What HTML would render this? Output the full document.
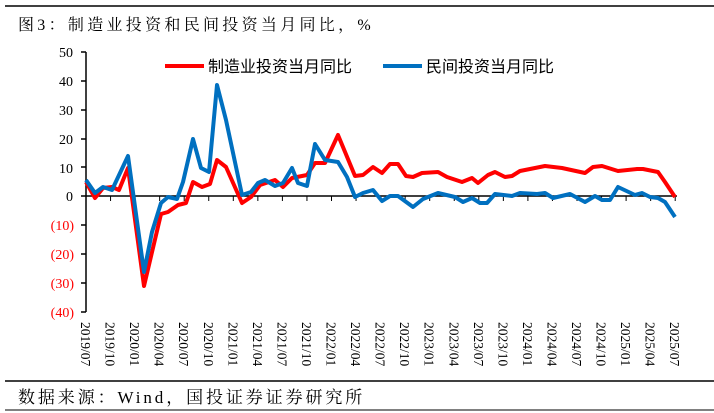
<!DOCTYPE html>
<html><head><meta charset="utf-8"><style>
body{margin:0;background:#fff;}
svg{display:block}
</style></head><body>
<svg width="714" height="413" viewBox="0 0 714 413" xmlns="http://www.w3.org/2000/svg">
<line x1="5" y1="6" x2="714" y2="6" stroke="#000" stroke-width="1.5"/>
<text x="18" y="30" font-family="Liberation Serif, Noto Serif CJK SC, serif" font-size="16" letter-spacing="3.3">图3：制造业投资和民间投资当月同比，%</text>
<g font-family="Liberation Serif, serif" font-size="14" text-anchor="end">
<text x="73" y="57">50</text><text x="73" y="86">40</text><text x="73" y="115">30</text>
<text x="73" y="144">20</text><text x="73" y="173">10</text><text x="73" y="201">0</text>
<g fill="#f00"><text x="74" y="230">(10)</text><text x="74" y="259">(20)</text><text x="74" y="288">(30)</text><text x="74" y="317">(40)</text></g>
</g>
<g stroke="#000" stroke-width="1.5">
<line x1="86" y1="52" x2="86" y2="312"/>
<line x1="81" y1="52" x2="86" y2="52"/><line x1="81" y1="81" x2="86" y2="81"/><line x1="81" y1="110" x2="86" y2="110"/><line x1="81" y1="139" x2="86" y2="139"/><line x1="81" y1="167" x2="86" y2="167"/><line x1="81" y1="225" x2="86" y2="225"/><line x1="81" y1="254" x2="86" y2="254"/><line x1="81" y1="283" x2="86" y2="283"/><line x1="81" y1="312" x2="86" y2="312"/>
<line x1="81" y1="196" x2="677" y2="196"/>
</g>
<g id="ticks" stroke="#000" stroke-width="1"></g>
<g font-family="Liberation Serif, serif" font-size="13.5" id="xl"></g>
<polyline fill="none" stroke="#f00" stroke-width="4" stroke-linejoin="round" points="86,182 95,198 103,188 112,187 119,190 128,168 144,286 161,214 168,212 178,205 186,203 193,182 202,187 210,184 217,160 226,167 242,203 251,197 260,185 275,180 283,187 292,178 307,175 315,163 325,163 338,135 355,176 363,175 373,167 382,173 390,164 398,164 406,176 413,177 422,173 438,172 447,177 462,182 472,178 478,183 488,175 495,172 505,177 512,176 520,171 545,166 562,168 585,173 593,167 602,166 618,171 637,169 643,169 658,172 665,182 675,197"/>
<polyline fill="none" stroke="#0070c0" stroke-width="4" stroke-linejoin="round" points="86,180 95,193 103,187 112,190 128,156 144,272 152,232 161,203 168,197 177,199 183,182 193,139 201,168 209,172 217,85 226,120 242,195 251,192 258,183 265,180 275,186 283,183 292,168 298,183 307,186 315,144 325,160 338,162 347,177 355,197 363,193 373,190 382,201 390,196 398,196 413,207 423,199 438,193 455,197 463,202 472,198 480,203 487,203 495,194 512,196 520,193 537,194 545,193 553,198 570,194 585,202 595,196 602,200 610,200 618,187 635,195 642,193 650,197 658,198 665,202 675,217"/>
<line x1="165" y1="66" x2="204" y2="66" stroke="#f00" stroke-width="4"/>
<text x="208" y="72" font-family="Liberation Sans, Noto Sans CJK SC, sans-serif" font-size="16">制造业投资当月同比</text>
<line x1="383" y1="66" x2="422" y2="66" stroke="#0070c0" stroke-width="4"/>
<text x="426" y="72" font-family="Liberation Sans, Noto Sans CJK SC, sans-serif" font-size="16">民间投资当月同比</text>
<line x1="5" y1="381" x2="714" y2="381" stroke="#000" stroke-width="1.5"/>
<text x="18" y="403" font-family="Liberation Serif, Noto Serif CJK SC, serif" font-size="17" letter-spacing="2.9">数据来源：Wind，国投证券证券研究所</text>
<line x1="5" y1="410" x2="714" y2="410" stroke="#000" stroke-width="1"/>
<script>
var L=[];for(var y=2019;y<=2025;y++)for(var m of[1,4,7,10]){if(y==2019&&m<7)continue;if(y==2025&&m>7)continue;L.push(y+'/'+(m<10?'0':'')+m);}
var t=document.getElementById('ticks'),x=document.getElementById('xl'),ns='http://www.w3.org/2000/svg';
L.forEach(function(s,i){var px=86+i*24.55;var l=document.createElementNS(ns,'line');l.setAttribute('x1',px);l.setAttribute('x2',px);l.setAttribute('y1',196);l.setAttribute('y2',201);t.appendChild(l);
var e=document.createElementNS(ns,'text');e.setAttribute('transform','translate('+(px-5)+',322) rotate(90)');e.textContent=s;x.appendChild(e);});
</script>
</svg>
</body></html>
